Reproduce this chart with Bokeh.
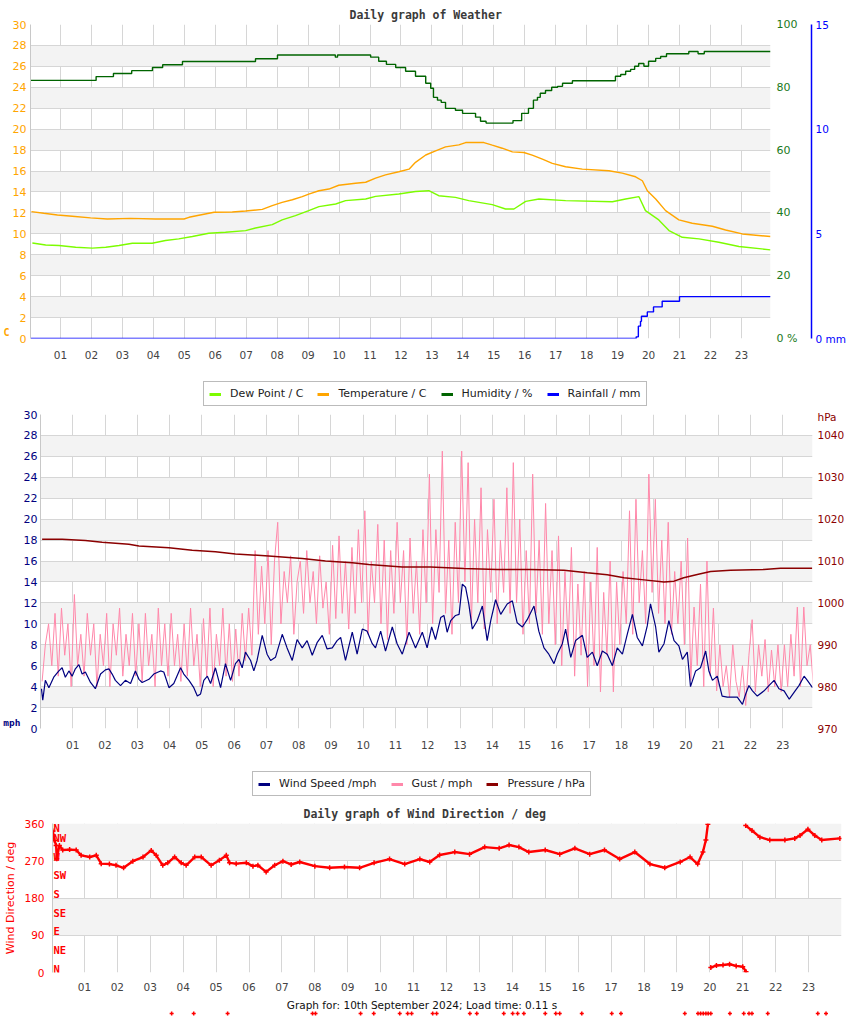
from bokeh.plotting import figure
from bokeh.models import (Range1d, LinearAxis, FixedTicker, Legend, LegendItem, Label,
                          LabelSet, ColumnDataSource, PrintfTickFormatter)
from bokeh.embed import file_html
from bokeh.resources import INLINE
from bokeh.core.properties import value

NAN = float("nan")

# ---------------- data ----------------
HOURS = list(range(1, 24))
TEMP_TICKS = list(range(0, 31, 2))
HUM_TICKS = [0, 20, 40, 60, 80, 100]
RAIN_TICKS = [0, 5, 10, 15]
MPH_TICKS = list(range(0, 31, 2))
PRES_TICKS = [970, 980, 990, 1000, 1010, 1020, 1030, 1040]
DIR_TICKS = [0, 90, 180, 270, 360]
COMPASS = ["N", "NE", "E", "SE", "S", "SW", "W", "NW", "N"]
COMPASS_DEG = [0, 45, 90, 135, 180, 225, 270, 315, 360]

TEMP_H = [0.06, 0.46, 0.9, 1.38, 1.97, 2.51, 3.26, 4.07, 4.99, 5.15, 5.47, 5.96, 6.55, 6.98,
          7.52, 7.84, 8.16, 8.49, 8.81, 9.02, 9.35, 9.67, 9.99, 10.53, 10.86, 11.18, 11.5,
          11.93, 12.26, 12.47, 12.8, 13.12, 13.44, 13.87, 14.09, 14.68, 14.95, 15.27, 15.6,
          15.97, 16.24, 16.57, 16.89, 17.32, 17.86, 18.72, 19.15, 19.58, 19.8, 19.96, 20.23,
          20.55, 20.98, 21.41, 22.06, 22.49, 23.03, 23.94]
TEMP_C = [12.12, 11.96, 11.8, 11.68, 11.52, 11.42, 11.48, 11.42, 11.42, 11.58, 11.77, 12.06,
          12.09, 12.18, 12.34, 12.69, 13.01, 13.26, 13.55, 13.8, 14.12, 14.28, 14.64, 14.83,
          14.93, 15.33, 15.63, 15.93, 16.18, 16.83, 17.53, 17.93, 18.31, 18.5, 18.72, 18.72,
          18.47, 18.18, 17.83, 17.77, 17.52, 17.13, 16.73, 16.41, 16.18, 16.03, 15.8, 15.45,
          15.07, 14.12, 13.33, 12.22, 11.33, 11.01, 10.72, 10.37, 9.99, 9.74]

DEW_H = [0.09, 0.52, 0.95, 1.49, 2.03, 2.46, 2.89, 3.32, 3.96, 4.39, 4.82, 5.26, 5.79, 6.33,
         6.98, 7.3, 7.84, 8.16, 8.59, 9.02, 9.35, 9.89, 10.21, 10.86, 11.18, 11.93, 12.47,
         12.9, 13.22, 13.76, 14.19, 14.95, 15.38, 15.65, 16.03, 16.46, 17.32, 18.83, 19.26,
         19.69, 19.9, 20.33, 20.66, 21.09, 21.63, 22.27, 22.92, 23.94]
DEW_C = [9.13, 8.93, 8.88, 8.72, 8.63, 8.72, 8.88, 9.1, 9.1, 9.36, 9.52, 9.74, 10.05, 10.15,
         10.31, 10.56, 10.88, 11.33, 11.74, 12.22, 12.6, 12.85, 13.17, 13.33, 13.58, 13.8,
         14.05, 14.12, 13.64, 13.48, 13.17, 12.79, 12.37, 12.37, 13.1, 13.33, 13.17, 13.07,
         13.33, 13.55, 12.22, 11.33, 10.31, 9.67, 9.52, 9.2, 8.79, 8.47]

HUM_H = [0.03, 2.15, 2.71, 3.30, 3.97, 4.30, 4.94, 7.30, 8.01, 9.88, 9.95, 11.02, 11.28,
         11.53, 11.83, 12.15, 12.47, 12.80, 12.96, 13.05, 13.18, 13.30, 13.44, 13.76, 13.99,
         14.41, 14.57, 14.75, 15.62, 15.90, 16.12, 16.28, 16.41, 16.50, 16.67, 16.87, 17.06,
         17.22, 17.54, 18.93, 19.10, 19.26, 19.42, 19.55, 19.68, 19.85, 20.0, 20.23, 20.39,
         20.58, 21.30, 21.6, 21.8, 23.94]
HUM_PCT = [82.2, 83.4, 84.4, 85.3, 86.3, 87.2, 88.2, 89.1, 90.3, 89.6, 90.3, 89.6, 88.3,
           87.3, 86.3, 85.1, 83.5, 81.3, 79.7, 76.8, 75.9, 75.2, 73.3, 72.7, 71.7, 70.5,
           69.2, 68.6, 69.4, 71.7, 73.3, 75.9, 76.8, 78.1, 79.0, 80.0, 80.3, 81.3, 82.1,
           83.5, 84.1, 85.1, 85.7, 86.7, 87.6, 86.7, 88.3, 89.2, 89.8, 90.7, 91.4, 90.7,
           91.4, 91.4]

RAIN_H = [0.03, 19.6, 19.67, 19.74, 19.77, 19.96, 20.16, 20.44, 21.0, 23.94]
RAIN_MM = [0.0, 0.08, 0.59, 0.82, 1.06, 1.27, 1.51, 1.78, 2.0, 2.0]

WIND_H = [0.03, 0.07, 0.15, 0.26, 0.41, 0.57, 0.67, 0.77, 0.88, 0.98, 1.08, 1.19, 1.29, 1.39,
          1.55, 1.70, 1.86, 2.01, 2.12, 2.22, 2.32, 2.48, 2.63, 2.79, 2.94, 3.05, 3.15, 3.36,
          3.51, 3.72, 3.82, 3.98, 4.13, 4.34, 4.44, 4.60, 4.75, 4.86, 4.96, 5.06, 5.17, 5.27,
          5.42, 5.58, 5.73, 5.89, 6.04, 6.15, 6.25, 6.35, 6.51, 6.61, 6.71, 6.87, 7.02, 7.13,
          7.28, 7.49, 7.64, 7.80, 7.95, 8.11, 8.26, 8.42, 8.57, 8.73, 8.88, 9.04, 9.19, 9.30,
          9.45, 9.66, 9.81, 9.97, 10.12, 10.28, 10.38, 10.54, 10.69, 10.90, 11.05, 11.21,
          11.42, 11.62, 11.83, 11.98, 12.12, 12.24, 12.40, 12.50, 12.60, 12.71, 12.86, 12.97,
          13.07, 13.17, 13.27, 13.38, 13.53, 13.69, 13.84, 13.95, 14.10, 14.26, 14.46, 14.62,
          14.77, 14.93, 15.08, 15.29, 15.44, 15.60, 15.75, 15.91, 16.01, 16.17, 16.27, 16.43,
          16.58, 16.79, 16.94, 17.10, 17.25, 17.41, 17.56, 17.72, 17.87, 18.03, 18.18, 18.34,
          18.49, 18.65, 18.80, 18.90, 19.06, 19.16, 19.32, 19.47, 19.63, 19.78, 19.89, 20.04,
          20.14, 20.30, 20.45, 20.61, 20.71, 20.82, 20.97, 21.12, 21.28, 21.44, 21.59, 21.75,
          21.85, 21.95, 22.06, 22.21, 22.42, 22.57, 22.73, 22.88, 23.04, 23.20, 23.36, 23.50,
          23.66, 23.76, 23.92]
WIND_MPH = [3.8, 2.7, 4.6, 3.9, 4.9, 5.5, 5.8, 4.9, 5.5, 5.0, 5.7, 6.1, 5.2, 5.4, 4.4, 3.8,
            5.2, 5.6, 5.7, 5.2, 4.6, 4.1, 4.6, 4.3, 5.5, 4.7, 4.4, 4.7, 5.2, 5.5, 5.4, 3.9,
            4.3, 5.8, 5.2, 4.6, 3.9, 3.1, 3.3, 4.6, 5.0, 4.3, 5.8, 3.9, 6.2, 4.6, 6.2, 6.6,
            5.8, 7.3, 6.5, 5.5, 6.5, 8.9, 7.1, 6.5, 6.8, 9.0, 7.7, 6.5, 8.5, 7.7, 8.4, 7.0,
            8.2, 8.9, 7.6, 7.7, 8.4, 8.7, 6.5, 9.2, 7.1, 9.5, 9.3, 8.1, 7.7, 9.3, 7.4, 9.7,
            8.1, 7.1, 9.2, 7.7, 9.2, 7.7, 9.7, 8.5, 10.6, 10.8, 9.2, 10.3, 10.8, 10.9, 13.8,
            13.5, 11.9, 9.5, 10.3, 11.7, 8.4, 10.3, 12.3, 10.9, 11.9, 12.2, 10.1, 9.7, 10.4,
            11.7, 9.3, 7.7, 7.1, 6.2, 7.1, 8.1, 9.5, 6.8, 8.4, 8.9, 6.8, 7.3, 6.0, 7.4, 7.1,
            6.0, 7.7, 7.1, 9.0, 10.9, 8.7, 7.9, 9.8, 11.9, 9.7, 7.3, 8.1, 10.3, 8.4, 7.9, 6.6,
            7.3, 4.0, 5.5, 5.8, 7.4, 5.5, 4.6, 5.0, 3.1, 3.0, 3.0, 3.0, 2.3, 3.3, 4.1, 3.6,
            3.1, 3.6, 4.1, 4.6, 3.8, 3.6, 2.8, 3.5, 4.1, 5.0, 4.6, 3.9]

GUST_H = [round(i * 0.1 + 0.05, 2) for i in range(240)]
GUST_MPH = [
    4.5, 8, 10, 6, 11, 5, 11.5, 7, 10, 4,
    12.8, 6, 9, 5, 11, 7, 10, 4, 9, 6,
    11, 4, 10, 7, 11.5, 5, 9, 6, 11, 5,
    10, 4.5, 11, 6, 9, 4, 11.5, 6, 10, 5,
    11, 6, 9, 4.5, 10, 5, 11.5, 6, 9, 4,
    10.5, 5, 11.5, 4, 9, 6, 11.5, 5, 10, 4.5,
    9.5, 5, 11, 6.5, 11.5, 7, 17, 9, 15.5, 10,
    17, 8, 16, 19.7, 10, 15, 12, 16.5, 9, 14,
    16, 11, 17, 12, 15, 10, 16.5, 11.5, 14, 9,
    17.5, 10.5, 18.4, 11, 16, 9.5, 17.3, 11, 19, 12,
    20.8, 9, 16, 12, 19.5, 10, 18, 8.5, 17, 11,
    19.7, 12, 17, 8, 18.2, 11, 16, 9, 19, 12,
    24.3, 10, 19, 13, 26.5, 11, 18, 9, 19.7, 12,
    26.5, 14, 25.4, 10, 20, 12, 23, 9.5, 19, 13,
    21.9, 10, 18, 13, 23, 11, 25.4, 12, 20, 9,
    17, 10, 24.3, 11, 18, 9, 21.5, 10, 17, 8,
    18.4, 6, 15, 8, 17.3, 5, 13.8, 7, 15, 4,
    14, 6, 17.3, 3.5, 13, 7, 16, 3.5, 14, 8,
    15, 10, 20.8, 9, 21.9, 12, 17, 10, 24.3, 13,
    21.9, 11, 18, 10, 19.7, 9, 15, 10, 16, 8,
    18.2, 4.6, 11.6, 6, 13.8, 4, 16, 5, 11.5, 3.6,
    8, 4, 6, 3, 8, 4.5, 3, 6, 2.2, 7,
    10.4, 3.5, 8, 5, 8.5, 3.5, 7.5, 4, 8, 3.5,
    8, 4, 9, 5, 11.6, 4, 11.6, 6, 8, 4]

PRES_H = [0.05, 0.67, 1.39, 1.91, 2.74, 3.05, 3.98, 4.70, 5.42, 6.04, 7.07, 8.11, 8.83, 9.66,
          10.17, 11.21, 12.09, 13.12, 14.15, 15.18, 16.22, 16.94, 17.56, 18.08, 18.70, 19.32,
          19.63, 19.93, 20.35, 20.76, 21.38, 22.41, 22.93, 23.91]
PRES_HPA = [1015.2, 1015.2, 1014.9, 1014.5, 1014.0, 1013.6, 1013.2, 1012.6, 1012.2, 1011.7,
            1011.2, 1010.6, 1010.0, 1009.6, 1009.2, 1008.6, 1008.6, 1008.2, 1008.0, 1008.0,
            1007.8, 1007.2, 1006.7, 1006.0, 1005.5, 1005.0, 1005.2, 1006.0, 1006.8, 1007.5,
            1007.8, 1008.0, 1008.3, 1008.3]

DIR_H = [0.04, 0.09, 0.14, 0.16, 0.24, 0.34, 0.55, 0.75, 0.90, 1.16, 1.36, 1.51, 1.76, 1.96,
         2.19, 2.47, 2.78, 3.03, 3.18, 3.38, 3.53, 3.74, 3.94, 4.09, 4.35, 4.55, 4.85, 5.10,
         5.31, 5.41, 5.61, 5.92, 6.12, 6.27, 6.52, 6.78, 7.03, 7.28, 7.54, 8.0, 8.45, 8.9,
         9.36, 9.8, 10.27, 10.73, 11.19, 11.49, 11.79, 12.25, 12.7, 13.16, 13.6, 13.9, 14.2,
         14.5, 15.0, 15.44, 15.9, 16.35, 16.8, 17.26, 17.72, 18.18, 18.63, 19.1, 19.4, 19.63,
         19.79, 19.88, 19.94, 19.97,
         20.03, 20.2, 20.4, 20.6, 20.8, 21.0, 21.1, 21.12,
         21.09, 21.28, 21.52, 21.82, 22.28, 22.58, 22.74, 22.98, 23.19, 23.4, 23.95]
DIR_DEG = [342, 319, 307, 275, 307, 296, 297, 296, 283, 279, 283, 263, 262, 259,
           253, 269, 279, 295, 283, 259, 265, 279, 265, 259, 279, 279, 259, 271,
           283, 265, 263, 265, 257, 259, 243, 259, 269, 261, 267, 257, 253, 255,
           253, 265, 274, 262, 274, 267, 284, 291, 286, 303, 300, 308, 303,
           291, 296, 286, 300, 286, 296, 274, 291, 262, 253, 267, 279, 262,
           291, 320, 358, NAN,
           12, 17, 18, 20, 16, 14, 2, NAN,
           355, 343, 327, 320, 320, 324, 331, 346, 331, 320, 324]

STRAY_H = [3.65, 4.32, 5.35, 7.93, 8.02, 9.39, 9.79, 10.58, 10.82, 10.94, 11.58, 11.7, 12.71,
           12.92, 13.74, 14.01, 14.16, 14.35, 15.0, 15.32, 15.44, 16.11, 17.02, 17.3, 19.24,
           19.64, 19.72, 19.8, 19.88, 19.95, 20.03, 20.61, 21.03, 21.19, 21.28, 21.76, 23.28,
           23.53]
STRAY_LEVEL = [0] * len(STRAY_H)

WEATHER_SERIES = ["Dew Point / C", "Temperature / C", "Humidity / %", "Rainfall / mm"]
WEATHER_COLORS = ["#7CFC00", "#FFA500", "#006400", "#0000FF"]
WIND_SERIES = ["Wind Speed /mph", "Gust / mph", "Pressure / hPa"]
WIND_COLORS = ["#000080", "#FF88AA", "#8B0000"]

FOOTER = "Graph for: 10th September 2024; Load time: 0.11 s"

# ---------------- styling helpers ----------------
W = 850
GRID = "#d6d6d6"
BAND = "#f3f3f3"
TICK_FONT = "DejaVu Sans"
TITLE_FONT = "DejaVu Sans Mono"


def base_fig(height, xr, yr, mbl, mbr, mbt, mbb, title_loc="above", axes=True):
    kw = {} if axes else {"x_axis_location": None, "y_axis_location": None}
    p = figure(width=W, height=height, x_range=xr, y_range=yr,
               output_backend="svg", toolbar_location=None, title_location=title_loc,
               min_border_left=mbl, min_border_right=mbr,
               min_border_top=mbt, min_border_bottom=mbb, **kw)
    p.outline_line_color = None
    p.background_fill_color = "white"
    p.border_fill_color = "white"
    if not axes:
        p.xgrid.visible = False
        p.ygrid.visible = False
    return p


def style_title(t, text, offset, standoff):
    t.text = text
    t.align = "left"
    t.offset = offset
    t.standoff = standoff
    t.text_font = TITLE_FONT
    t.text_font_style = "bold"
    t.text_font_size = "11.5px"
    t.text_color = "#3a3a3a"


def bare(ax, color, standoff, size="11px", font=TICK_FONT, style="normal"):
    ax.major_tick_line_color = None
    ax.minor_tick_line_color = None
    ax.major_tick_out = 0
    ax.major_tick_in = 0
    ax.minor_tick_out = 0
    ax.minor_tick_in = 0
    ax.major_label_standoff = standoff
    ax.major_label_text_font = font
    ax.major_label_text_font_size = size
    ax.major_label_text_font_style = style
    ax.major_label_text_color = color


def style_x(p, standoff):
    ax = p.xaxis[0]
    ax.ticker = FixedTicker(ticks=HOURS)
    ax.formatter = PrintfTickFormatter(format="%02d")
    ax.axis_line_color = None
    bare(ax, "#444444", standoff, "10.5px")
    p.xgrid.ticker = FixedTicker(ticks=HOURS)
    p.xgrid.grid_line_color = GRID


def style_y(p, ticks, color, standoff, size="11px"):
    ax = p.yaxis[0]
    ax.ticker = FixedTicker(ticks=ticks)
    ax.axis_line_color = "#c8c8c8"
    bare(ax, color, standoff, size)
    p.ygrid.ticker = FixedTicker(ticks=ticks)
    p.ygrid.grid_line_color = GRID
    p.ygrid.band_fill_color = BAND
    p.ygrid.band_fill_alpha = 1.0


def side_axis(range_name, ticks, color, standoff, line_color=None, size="11px",
              overrides=None, font=TICK_FONT, style="normal"):
    kw = {} if range_name is None else {"y_range_name": range_name}
    ax = LinearAxis(ticker=FixedTicker(ticks=ticks), axis_label=None, **kw)
    ax.axis_line_color = line_color
    bare(ax, color, standoff, size, font, style)
    if overrides:
        ax.major_label_overrides = overrides
    return ax


def legend_strip(height, series, loc):
    """A thin strip holding a horizontal legend; its keys are the series' own lines,
    kept out of the strip's (empty) data window so only the legend shows."""
    q = base_fig(height, Range1d(0, 24), Range1d(-3, -2), 0, 0, 0, 0, title_loc=None,
                 axes=False)
    items = []
    for name, col, (xs, ys) in series:
        r = q.line(xs, ys, line_color=col, line_width=3)
        items.append(LegendItem(label=name, renderers=[r]))
    lg = Legend(items=items, orientation="horizontal", location=loc, margin=0,
                padding=5, spacing=14, glyph_width=12, glyph_height=12, label_height=12,
                label_standoff=9, label_text_font=TICK_FONT, label_text_font_size="11px",
                label_text_color="#222222", border_line_color="#777777",
                border_line_width=1, background_fill_color="white",
                background_fill_alpha=1)
    q.add_layout(lg)
    return q


# ---------------- figure 1 : weather (page y 0-376) ----------------
x1 = Range1d(0.03, 23.94)
p1 = base_fig(376, x1, Range1d(0, 30), 30, 80, 24, 38)
style_title(p1.title, "Daily graph of Weather", 319, 5)
style_x(p1, 12)
style_y(p1, TEMP_TICKS, "#FFA500", 4)
p1.add_layout(side_axis(None, [0.55], "#FFA500", 0, size="10px", overrides={0.55: "C"},
                        font=TITLE_FONT, style="bold"), "left")
p1.extra_y_ranges = {"hum": Range1d(0, 100), "rain": Range1d(0, 15)}
hum_ax = side_axis("hum", HUM_TICKS, "#1b7a1b", 6, overrides={0: "0 %"})
hum_ax.axis_label = " "
hum_ax.axis_label_text_font_size = "6px"
hum_ax.axis_label_standoff = 2
p1.add_layout(hum_ax, "right")
rain_ax = side_axis("rain", RAIN_TICKS, "#0000FF", 4, line_color="#0000FF", size="10.5px",
                    overrides={0: "0 mm"})
rain_ax.axis_line_width = 1.5
p1.add_layout(rain_ax, "right")

p1.step(RAIN_H, RAIN_MM, mode="after", line_color="#0000FF", line_width=1.4,
        y_range_name="rain")
p1.step(HUM_H, HUM_PCT, mode="after", line_color="#006400", line_width=1.4,
        y_range_name="hum")
p1.line(TEMP_H, TEMP_C, line_color="#FFA500", line_width=1.4)
p1.line(DEW_H, DEW_C, line_color="#7CFC00", line_width=1.4)

# ---------------- legend strip A (page y 376-408) ----------------
legA = legend_strip(32, list(zip(WEATHER_SERIES, WEATHER_COLORS,
                                 [(DEW_H, DEW_C), (TEMP_H, TEMP_C), (HUM_H, HUM_PCT),
                                  (RAIN_H, RAIN_MM)])), (203, 2))

# ---------------- figure 2 : wind (page y 408-768) ----------------
x2 = Range1d(0, 23.92)
p2 = base_fig(360, x2, Range1d(0, 30), 40, 38, 6, 40, title_loc=None)
style_x(p2, 12)
style_y(p2, MPH_TICKS, "#000080", 3)
p2.add_layout(side_axis(None, [0.6], "#000080", 0, size="9.5px", overrides={0.6: "mph"},
                        font=TITLE_FONT, style="bold"), "left")
p2.extra_y_ranges = {"pres": Range1d(970, 1045)}
pres_ax = side_axis("pres", PRES_TICKS + [1044.3], "#8B0000", 5, size="10.5px",
                    overrides={1044.3: "hPa"})
p2.add_layout(pres_ax, "right")

p2.line(GUST_H, GUST_MPH, line_color="#FF88AA", line_width=1)
p2.line(WIND_H, WIND_MPH, line_color="#000080", line_width=1.2)
p2.line(PRES_H, PRES_HPA, line_color="#8B0000", line_width=1.5, y_range_name="pres")

# ---------------- legend strip B (page y 768-802) ----------------
legB = legend_strip(34, list(zip(WIND_SERIES, WIND_COLORS,
                                 [(WIND_H, WIND_MPH), (GUST_H, GUST_MPH),
                                  (PRES_H, PRES_HPA)])), (252, 6))

# ---------------- figure 3 : wind direction (page y 802-995) ----------------
x3 = Range1d(0.03, 24.0)
p3 = base_fig(193, x3, Range1d(0, 360), 52, 9, 19, 23)
style_title(p3.title, "Daily graph of Wind Direction / deg", 251, 5)
style_x(p3, 10)
style_y(p3, DIR_TICKS, "#FF0000", 8, "10.5px")
p3.yaxis[0].axis_label = "Wind Direction / deg"
p3.yaxis[0].axis_label_text_color = "#FF0000"
p3.yaxis[0].axis_label_text_font = TICK_FONT
p3.yaxis[0].axis_label_text_font_size = "11px"
p3.yaxis[0].axis_label_text_font_style = "normal"
p3.yaxis[0].axis_label_standoff = 4

p3.line(DIR_H, DIR_DEG, line_color="#FF0000", line_width=2.4)
p3.scatter(DIR_H, DIR_DEG, marker="cross", size=5, line_color="#FF0000", line_width=1.5)

compass_src = ColumnDataSource(dict(x=[x3.start] * len(COMPASS), y=COMPASS_DEG, text=COMPASS,
                                    dy=[0, 0, 0, 0, 0, 0, 0, 0, -8]))
p3.add_layout(LabelSet(x="x", y="y", text="text", source=compass_src, x_offset=1,
                       y_offset="dy", text_align="left", text_baseline="alphabetic",
                       text_font=value(TITLE_FONT), text_font_style="bold",
                       text_font_size="10.5px", text_color="#FF0000"))

# ---------------- figure 4 : footer (page y 995-1016) ----------------
p4 = base_fig(21, x3, Range1d(-3, 18), 52, 9, 0, 0, title_loc=None, axes=False)
p4.scatter(STRAY_H, STRAY_LEVEL, marker="cross", size=4, line_color="#FF0000", line_width=1.5)
p4.add_layout(Label(x=(x3.start + x3.end) / 2, y=9, text=FOOTER, x_offset=-25,
                    text_align="center", text_baseline="middle", text_color="#111111",
                    text_font=TICK_FONT, text_font_size="10.5px"))

open("out.html", "w").write(file_html([p1, legA, p2, legB, p3, p4], INLINE))
